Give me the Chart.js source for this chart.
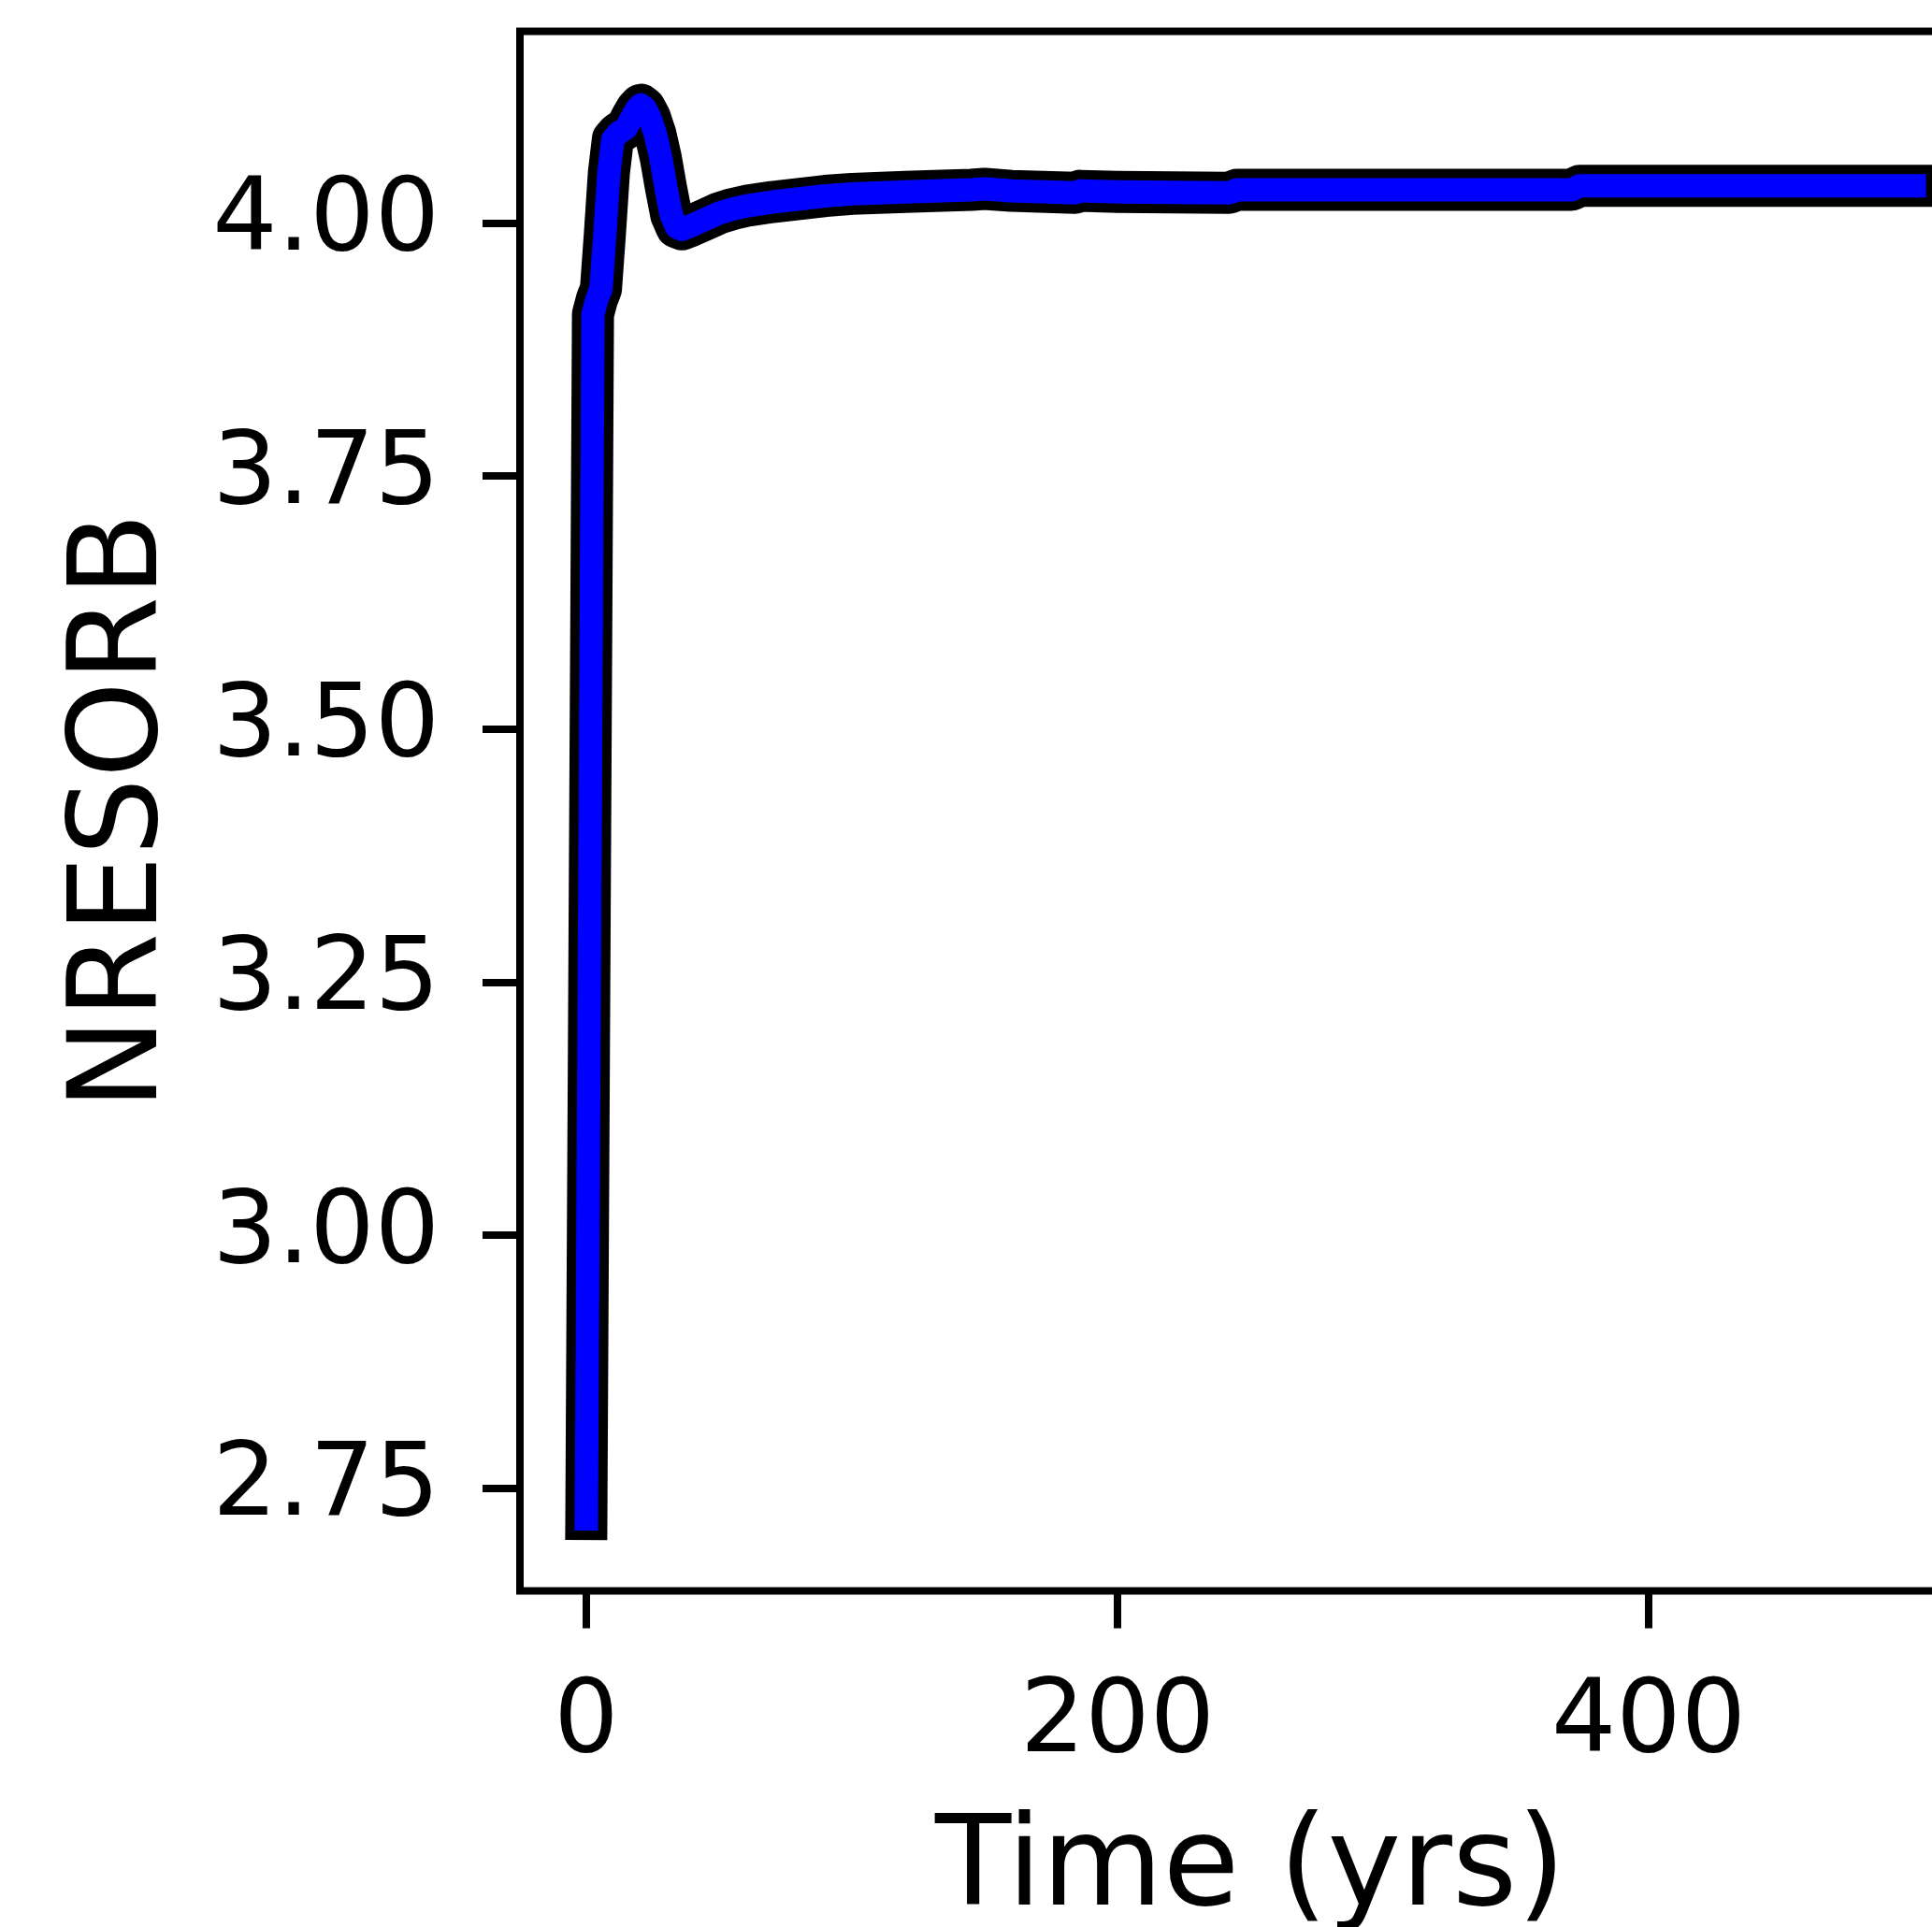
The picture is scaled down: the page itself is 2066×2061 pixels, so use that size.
<!DOCTYPE html>
<html>
<head>
<meta charset="utf-8">
<script src="https://cdn.jsdelivr.net/npm/chart.js@4.4.0/dist/chart.umd.min.js"></script>
<style>
  html, body { margin: 0; padding: 0; background: #fff; overflow: hidden; }
  #caixa { width: 2200px; height: 2061px; }
</style>
</head>
<body>
<div id="caixa"><canvas id="grafico" width="2200" height="2061"></canvas></div>
<script>
// valores (tempo em anos)
var tempo = [0, 2.5, 4, 5.5, 7, 8.5, 10, 12, 15, 17, 19, 20.5, 22, 24, 26, 28, 30, 32, 34, 36, 39, 45, 50, 55, 60, 70, 80, 90, 100, 120, 145, 150, 160, 184, 186, 200, 242, 245, 300, 371, 374, 440, 500];
var nresorb = [2.72, 3.91, 3.925, 3.935, 3.99, 4.05, 4.083, 4.089, 4.094, 4.104, 4.113, 4.117, 4.114, 4.104, 4.088, 4.065, 4.035, 4.008, 3.996, 3.994, 3.997, 4.004, 4.010, 4.014, 4.017, 4.021, 4.024, 4.027, 4.029, 4.031, 4.033, 4.034, 4.032, 4.030, 4.032, 4.031, 4.030, 4.033, 4.033, 4.033, 4.037, 4.037, 4.037];

var xTicks = [0, 200, 400];
var yTicks = [2.75, 3.00, 3.25, 3.50, 3.75, 4.00];

var pontos = tempo.map(function(t, i) { return {x: t, y: nresorb[i]}; });

var fonte = 'DejaVu Sans';

// moldura preta em volta da area do grafico
var moldura = {
  id: 'moldura',
  afterDraw: function(chart) {
    var a = chart.chartArea;
    var ctx = chart.ctx;
    ctx.save();
    ctx.strokeStyle = '#000';
    ctx.lineWidth = 8;
    ctx.strokeRect(a.left, a.top, a.right - a.left, a.bottom - a.top);
    ctx.restore();
  }
};

var options = {
  responsive: false,
  animation: false,
  devicePixelRatio: 1,
  layout: { padding: { top: 33.5, right: 82, bottom: 0, left: 0 } },
  plugins: { legend: { display: false }, tooltip: { enabled: false } },
  elements: { point: { radius: 0 } },
  scales: {
    x: {
      type: 'linear',
      min: -25,
      max: 525,
      afterBuildTicks: function(s) { s.ticks = xTicks.map(function(v) { return {value: v}; }); },
      afterFit: function(s) { s.height = 359.5; s.paddingLeft = 0; s.paddingRight = 0; },
      border: { display: false },
      grid: { display: true, drawOnChartArea: false, drawTicks: true, tickLength: 40, tickWidth: 8, lineWidth: 8, tickColor: '#000' },
      ticks: {
        color: '#000',
        padding: 38,
        maxRotation: 0,
        font: { family: fonte, size: 109, lineHeight: 1.2 },
        callback: function(v) { return String(v); }
      },
      title: {
        display: true,
        text: 'Time (yrs)',
        color: '#000',
        padding: { top: 0, bottom: 5 },
        font: { family: fonte, size: 133, lineHeight: 0.8 }
      }
    },
    y: {
      type: 'linear',
      min: 2.6489,
      max: 4.1896,
      afterBuildTicks: function(s) { s.ticks = yTicks.map(function(v) { return {value: v}; }); },
      afterFit: function(s) { s.width = 556; s.paddingTop = 0; s.paddingBottom = 0; },
      border: { display: false },
      grid: { display: true, drawOnChartArea: false, drawTicks: true, tickLength: 40, tickWidth: 8, lineWidth: 8, tickColor: '#000' },
      ticks: {
        color: '#000',
        padding: 46,
        font: { family: fonte, size: 109, lineHeight: 1.2 },
        callback: function(v) { return Number(v).toFixed(2); }
      },
      title: {
        display: true,
        text: 'NRESORB',
        color: '#000',
        padding: { top: 54, bottom: 0 },
        font: { family: fonte, size: 131, lineHeight: 1.2 }
      }
    }
  }
};

var ctx = document.getElementById('grafico').getContext('2d');
var myChart = new Chart(ctx, {
  type: 'line',
  data: {
    datasets: [{
      label: 'NRESORB',
      data: pontos,
      borderColor: '#0000ff',
      borderWidth: 25,
      borderCapStyle: 'square',
      borderJoinStyle: 'round',
      tension: 0,
      fill: false,
      clip: false
    }, {
      label: 'contorno',
      data: pontos,
      borderColor: '#000000',
      borderWidth: 45,
      borderCapStyle: 'square',
      borderJoinStyle: 'round',
      tension: 0,
      fill: false,
      clip: false
    }]
  },
  options: options,
  plugins: [moldura]
});
</script>
</body>
</html>
